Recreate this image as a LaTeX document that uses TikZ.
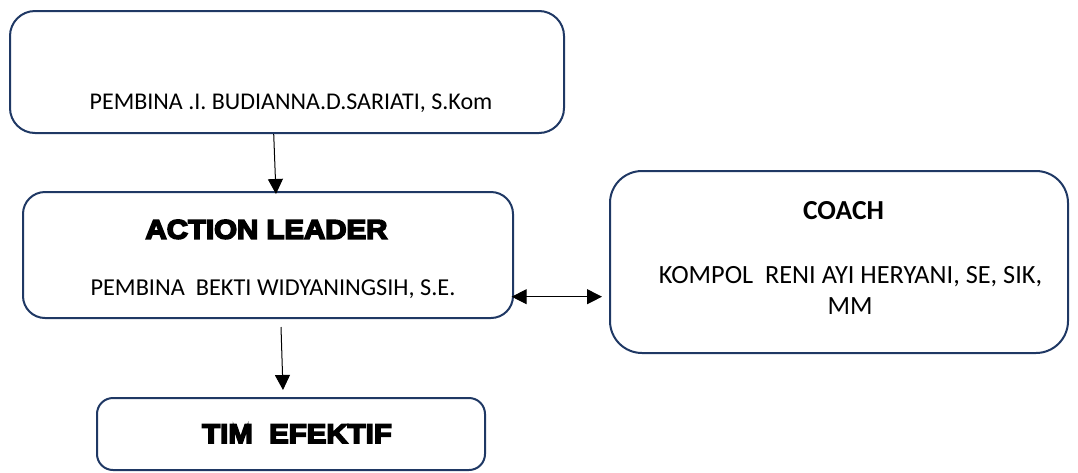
\documentclass[tikz,border=0pt]{standalone}
\usepackage{fontspec}
\setmainfont{Carlito}
\newfontfamily\blackfont[FakeBold=6,FakeStretch=1.09]{Liberation Sans Bold}
\usetikzlibrary{arrows.meta,calc}
\definecolor{boxblue}{HTML}{1F3864}
\tikzset{
  box/.style={draw=boxblue, line width=2pt, inner sep=0pt},
  tip/.tip={Triangle[length=15pt,width=15pt]},
  conn/.style={line width=1pt, -tip},
  dconn/.style={line width=1pt, tip-tip},
  txt/.style={font=\fontsize{24.3}{29}\selectfont, inner sep=0pt, anchor=base},
  ttl/.style={font=\fontsize{27}{32}\selectfont\blackfont, inner sep=0pt, anchor=base},
}
\begin{document}
\begin{tikzpicture}[x=1pt,y=-1pt]
\useasboundingbox (0,0) rectangle (1078,472);
\node[box, rounded corners=25pt, minimum width=554pt, minimum height=122pt] (b1) at (287,72) {};
\node[box, rounded corners=22pt, minimum width=490pt, minimum height=126pt] (b2) at (268,255) {};
\node[box, rounded corners=32pt, minimum width=458pt, minimum height=182pt] (b3) at (839,262) {};
\node[box, rounded corners=16pt, minimum width=388pt, minimum height=72pt] (b4) at (291,434) {};
\node[txt, font=\fontsize{24}{29}\selectfont] (t1) at (291,109) {PEMBINA .I. BUDIANNA.D.SARIATI, S.Kom};
\node[ttl] (t2) at (266.5,238.7) {ACTION LEADER};
\node[txt] (t3) at (273,295) {PEMBINA\ \ BEKTI WIDYANINGSIH, S.E.};
\node[txt, font=\fontsize{27.5}{33}\selectfont\bfseries] (t4) at (843.5,219) {COACH};
\node[txt, font=\fontsize{26.3}{32}\selectfont] (t5) at (850.5,283) {KOMPOL\ \ RENI AYI HERYANI, SE, SIK,};
\node[txt, font=\fontsize{26.3}{32}\selectfont] (t5b) at (850,314) {MM};
\node[ttl] (t6) at (297,443) {TIM\ \ EFEKTIF};
\draw[conn] ($(b1.south)+(-13.3,0)$) -- ($(b2.north)+(8,3)$);
\draw[conn] ($(b2.south)+(13,8)$) -- ($(b4.north)+(-8,-7)$);
\draw[dconn] ($(b2.east)+(-2.3,41.7)$) -- ($(b3.west)+(-7,34.7)$);
\end{tikzpicture}
\end{document}
